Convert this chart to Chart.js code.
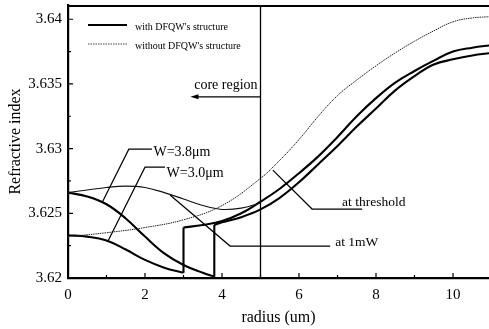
<!DOCTYPE html>
<html>
<head>
<meta charset="utf-8">
<script src="https://cdn.jsdelivr.net/npm/chart.js@4.4.1/dist/chart.umd.min.js"></script>
<style>
  html, body { margin: 0; padding: 0; background: #fff; }
  #wrap { width: 489px; height: 329px; }
</style>
</head>
<body>
<div id="wrap"><canvas id="chart"></canvas></div>
<script>
// W=3.8um, with DFQW's structure (split at the step)
const radius38Core = [0, 0.5, 1, 1.5, 2, 2.5, 3, 3.5, 3.8];
const index38Core = [3.6266, 3.6263, 3.6257, 3.6246, 3.6232, 3.6219, 3.6210, 3.6204, 3.6201];
const radius38Clad = [3.8, 4, 4.5, 5, 5.5, 6, 6.5, 7, 7.5, 8, 8.5, 9, 9.5, 10, 10.5, 11];
const index38Clad = [3.6241, 3.6243, 3.6247, 3.6253, 3.6262, 3.6274, 3.6288, 3.6302, 3.6317, 3.6331, 3.6345, 3.6356, 3.6365, 3.6369, 3.6372, 3.6374];

// W=3.0um, with DFQW's structure
const radius30Core = [0, 0.5, 1, 1.5, 2, 2.5, 3];
const index30Core = [3.6233, 3.6232, 3.6229, 3.6222, 3.6214, 3.6208, 3.6204];
const radius30Clad = [3, 3.5, 4, 4.5, 5, 5.5, 6, 6.5, 7, 7.5, 8, 8.5, 9, 9.5, 10, 10.5, 11];
const index30Clad = [3.6239, 3.6241, 3.6244, 3.6250, 3.6259, 3.6269, 3.6281, 3.6294, 3.6309, 3.6325, 3.6339, 3.6351, 3.6360, 3.6368, 3.6375, 3.6378, 3.6380];

// thin curve (at 1mW)
const radiusMw = [0, 0.5, 1, 1.5, 2, 2.5, 3, 3.5, 4, 4.5, 5];
const indexMw = [3.6266, 3.6268, 3.6270, 3.6271, 3.6270, 3.6266, 3.6261, 3.6256, 3.6253, 3.6254, 3.6258];

// without DFQW's structure
const radiusNo = [0, 1, 2, 3, 4, 5, 5.5, 6, 6.5, 7, 7.5, 8, 8.5, 9, 9.5, 10, 10.5, 11];
const indexNo = [3.6232, 3.6235, 3.6239, 3.6245, 3.6256, 3.6277, 3.6291, 3.6307, 3.6325, 3.6341, 3.6353, 3.6364, 3.6374, 3.6383, 3.6391, 3.6398, 3.6401, 3.6402];

const xTicks = [0, 2, 4, 6, 8, 10];
const yTicks = [3.62, 3.625, 3.63, 3.635, 3.64];
const coreEdge = 5;

const pts = (xs, ys) => xs.map((x, i) => ({ x, y: ys[i] }));
const step = (x, lo, hi) => [{ x, y: lo }, { x, y: hi }];

const thick = { borderColor: '#000', borderWidth: 2.1, pointRadius: 0, showLine: true, fill: false };

const serif = '"Liberation Serif", "Times New Roman", serif';

// leader lines and labels, in data units
const callouts = [
  { path: [[0.88, 3.6258], [1.58, 3.62996], [2.18, 3.62996]], text: 'W=3.8\u03bcm', at: [2.22, 3.62975] },
  { path: [[1.04, 3.62286], [2.0, 3.62857], [2.52, 3.62857]], text: 'W=3.0\u03bcm', at: [2.56, 3.62812] },
  { path: [[5.32, 3.62834], [6.34, 3.62533], [7.64, 3.62533]], text: 'at threshold', at: [7.12, 3.62585] },
  { path: [[2.65, 3.62641], [4.21, 3.62247], [6.81, 3.62247]], text: 'at 1mW', at: [6.94, 3.62272] }
];

const decor = {
  id: 'decor',
  afterDatasetsDraw(chart) {
    const { ctx, chartArea: a, scales: { x, y } } = chart;
    ctx.save();
    ctx.strokeStyle = '#000';
    ctx.fillStyle = '#000';

    // top frame
    ctx.lineWidth = 2.2;
    ctx.beginPath();
    ctx.moveTo(a.left, a.top + 1);
    ctx.lineTo(a.right, a.top + 1);
    ctx.stroke();

    // inward ticks
    ctx.lineWidth = 1.2;
    ctx.beginPath();
    for (let v = 0; v <= 10; v++) {
      const px = x.getPixelForValue(v);
      ctx.moveTo(px, a.bottom);
      ctx.lineTo(px, a.bottom - (v % 2 ? 3 : 5));
    }
    for (let k = 0; k <= 8; k++) {
      const py = y.getPixelForValue(3.62 + k * 0.0025);
      ctx.moveTo(a.left, py);
      ctx.lineTo(a.left + (k % 2 ? 3 : 5), py);
    }
    ctx.stroke();

    // core boundary
    ctx.lineWidth = 1.3;
    const cx = x.getPixelForValue(coreEdge);
    ctx.beginPath();
    ctx.moveTo(cx, a.top);
    ctx.lineTo(cx, a.bottom);
    ctx.stroke();

    // core region arrow
    const ay = y.getPixelForValue(3.634);
    const ax = x.getPixelForValue(3.18);
    ctx.beginPath();
    ctx.moveTo(cx, ay);
    ctx.lineTo(ax + 5, ay);
    ctx.stroke();
    ctx.beginPath();
    ctx.moveTo(ax, ay);
    ctx.lineTo(ax + 8, ay - 2.5);
    ctx.lineTo(ax + 8, ay + 2.5);
    ctx.closePath();
    ctx.fill();
    ctx.font = '14px ' + serif;
    ctx.textAlign = 'center';
    ctx.textBaseline = 'middle';
    ctx.fillText('core region', x.getPixelForValue(4.1), y.getPixelForValue(3.6349));

    // callouts
    ctx.lineWidth = 1.2;
    ctx.textAlign = 'left';
    callouts.forEach(c => {
      ctx.beginPath();
      c.path.forEach(([vx, vy], i) => {
        const px = x.getPixelForValue(vx), py = y.getPixelForValue(vy);
        if (i) ctx.lineTo(px, py); else ctx.moveTo(px, py);
      });
      ctx.stroke();
      ctx.font = (c.text.startsWith('W') ? '14px ' : '13.5px ') + serif;
      ctx.fillText(c.text, x.getPixelForValue(c.at[0]), y.getPixelForValue(c.at[1]));
    });

    // legend
    const lx = a.left + 20, tx = a.left + 67;
    ctx.lineWidth = 2;
    ctx.beginPath();
    ctx.moveTo(lx, a.top + 20);
    ctx.lineTo(lx + 39, a.top + 20);
    ctx.stroke();
    ctx.lineWidth = 1;
    ctx.setLineDash([1.5, 1]);
    ctx.strokeStyle = '#444';
    ctx.beginPath();
    ctx.moveTo(lx, a.top + 39);
    ctx.lineTo(lx + 39, a.top + 39);
    ctx.stroke();
    ctx.setLineDash([]);
    ctx.font = '10px ' + serif;
    ctx.fillText("with DFQW's structure", tx, a.top + 22);
    ctx.fillText("without DFQW's structure", tx, a.top + 41);
    ctx.restore();
  }
};

new Chart(document.getElementById('chart'), {
  type: 'scatter',
  data: {
    datasets: [
      { label: 'without DFQW', data: pts(radiusNo, indexNo), borderColor: '#222', borderWidth: 1, borderDash: [1.5, 0.8], pointRadius: 0, showLine: true, tension: 0.4 },
      { label: 'at 1mW', data: pts(radiusMw, indexMw), borderColor: '#111', borderWidth: 1.1, pointRadius: 0, showLine: true, tension: 0.4 },
      { label: 'W=3.8 core', data: pts(radius38Core, index38Core), ...thick, tension: 0.4 },
      { label: 'W=3.8 step', data: step(3.8, index38Core[index38Core.length - 1], index38Clad[0]), ...thick, tension: 0 },
      { label: 'W=3.8 clad', data: pts(radius38Clad, index38Clad), ...thick, tension: 0.4 },
      { label: 'W=3.0 core', data: pts(radius30Core, index30Core), ...thick, tension: 0.4 },
      { label: 'W=3.0 step', data: step(3.0, index30Core[index30Core.length - 1], index30Clad[0]), ...thick, tension: 0 },
      { label: 'W=3.0 clad', data: pts(radius30Clad, index30Clad), ...thick, tension: 0.4 }
    ]
  },
  options: {
    responsive: true,
    maintainAspectRatio: false,
    animation: false,
    layout: { padding: { top: 5, right: 0, left: 0, bottom: 0 } },
    plugins: {
      legend: { display: false },
      tooltip: { enabled: false }
    },
    scales: {
      x: {
        type: 'linear',
        min: 0,
        max: 10.935,
        afterFit: (s) => { s.height = 51; s.paddingLeft = 0; s.paddingRight = 0; },
        afterBuildTicks: (s) => { s.ticks = xTicks.map(v => ({ value: v })); },
        grid: { display: false, drawTicks: false },
        border: { display: true, color: '#000', width: 2.2 },
        ticks: { padding: 8, color: '#000', font: { family: serif, size: 15 }, maxRotation: 0 },
        title: { display: true, text: 'radius (um)', color: '#000', font: { family: serif, size: 16 }, padding: { top: 0, bottom: 2 } }
      },
      y: {
        type: 'linear',
        min: 3.62,
        max: 3.6411,
        afterFit: (s) => { s.width = 68; s.paddingTop = 0; s.paddingBottom = 0; },
        afterBuildTicks: (s) => { s.ticks = yTicks.map(v => ({ value: v })); },
        grid: { display: false, drawTicks: false },
        border: { display: true, color: '#000', width: 2.2 },
        ticks: { padding: 6, color: '#000', font: { family: serif, size: 15 }, callback: (v) => String(+v.toFixed(3)) },
        title: { display: true, text: 'Refractive index', color: '#000', font: { family: serif, size: 16 }, padding: { top: 6, bottom: 0 } }
      }
    }
  },
  plugins: [decor]
});
</script>
</body>
</html>
